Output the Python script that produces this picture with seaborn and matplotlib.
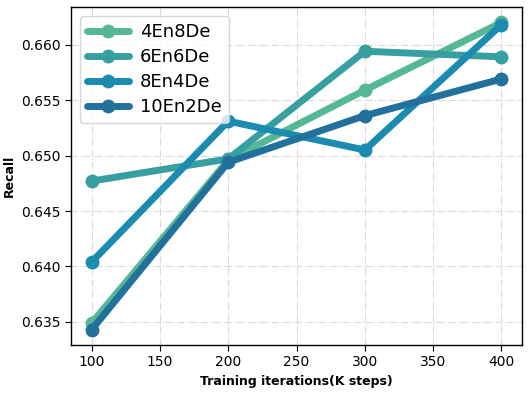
import numpy as np
import pandas as pd
import matplotlib
matplotlib.use("Agg")
import matplotlib.pyplot as plt
import seaborn as sns

steps = [100, 200, 300, 400]
configs = ["4En8De", "6En6De", "8En4De", "10En2De"]
recall_4en8de = [0.6349, 0.6496, 0.6559, 0.6620]
recall_6en6de = [0.6477, 0.6497, 0.6594, 0.6589]
recall_8en4de = [0.6404, 0.6531, 0.6505, 0.6618]
recall_10en2de = [0.6343, 0.6494, 0.6536, 0.6569]
colors = ["#55b895", "#389fa0", "#1b8cb0", "#22709c"]

rows = []
for name, vals in zip(configs, [recall_4en8de, recall_6en6de, recall_8en4de, recall_10en2de]):
    for s, v in zip(steps, vals):
        rows.append({"step": s, "recall": v, "config": name})
df = pd.DataFrame(rows)

sns.set_style("ticks")
plt.rcParams.update({"text.color": "black", "axes.labelcolor": "black",
                     "xtick.color": "black", "ytick.color": "black"})
fig, ax = plt.subplots(figsize=(5.31, 3.93), dpi=100)
sns.lineplot(data=df, x="step", y="recall", hue="config", hue_order=configs,
             palette=colors, marker="o", markersize=10, markeredgewidth=0,
             linewidth=5, ax=ax)

ax.grid(True, linestyle="-.", color="#d9d9d9", linewidth=0.8)
ax.set_axisbelow(True)
for sp in ax.spines.values():
    sp.set_color("black")
    sp.set_linewidth(1.0)
ax.tick_params(axis="both", labelsize=10, color="black", length=4)
ax.set_xlabel("Training iterations(K steps)", fontsize=9, fontweight="bold")
ax.set_ylabel("Recall", fontsize=9, fontweight="bold")
ax.set_xticks([100, 150, 200, 250, 300, 350, 400])
ax.legend(loc="upper left", fontsize=13, handlelength=2.3, borderpad=0.4,
          labelspacing=0.38, handletextpad=0.6, title=None)

fig.subplots_adjust(left=0.134, right=0.983, top=0.982, bottom=0.122)
fig.savefig("out.png", dpi=100)
